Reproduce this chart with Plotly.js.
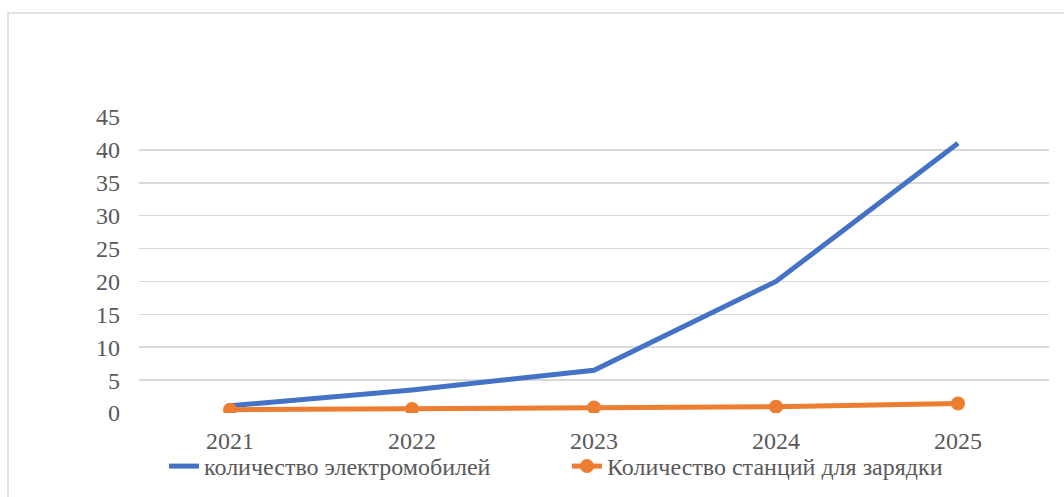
<!DOCTYPE html>
<html>
<head>
<meta charset="utf-8">
<script src="https://cdn.plot.ly/plotly-3.0.1.min.js"></script>
<style>
html,body{margin:0;padding:0;background:#fff;}
#chart{width:1064px;height:497px;}
</style>
</head>
<body>
<div id="chart"></div>
<script>
const years = ['2021', '2022', '2023', '2024', '2025'];
const evCount = [1.1, 3.5, 6.5, 20, 41];
const stationCount = [0.5, 0.6, 0.85, 0.95, 1.45];
const seriesNames = ['количество электромобилей', 'Количество станций для зарядки'];
const yTicks = [0, 5, 10, 15, 20, 25, 30, 35, 40, 45];

const traces = [
  {
    x: years, y: evCount, name: seriesNames[0], type: 'scatter', mode: 'lines',
    line: {color: '#4472C4', width: 5}
  },
  {
    x: years, y: stationCount, name: seriesNames[1], type: 'scatter', mode: 'lines+markers',
    line: {color: '#ED7D31', width: 5},
    marker: {color: '#ED7D31', size: 14}
  }
];

const FONT = 'Liberation Serif';
const W = 910, H = 296;
const layout = {
  width: 1064, height: 497,
  margin: {l: 139, r: 15, t: 117, b: 84, autoexpand: false},
  paper_bgcolor: '#ffffff', plot_bgcolor: '#ffffff',
  font: {family: FONT, size: 24, color: '#595959'},
  xaxis: {
    type: 'category', range: [-0.5, 4.5], showgrid: false, zeroline: false, showline: false,
    ticks: '', ticklabelstandoff: 11, tickfont: {family: FONT, size: 24, color: '#595959'}, fixedrange: true
  },
  yaxis: {
    range: [0, 45], tickvals: yTicks, showgrid: true, gridcolor: '#d9d9d9', gridwidth: 1.5,
    zeroline: false, showline: false, ticks: '', ticklabelstandoff: 18,
    tickfont: {family: FONT, size: 24, color: '#595959'}, fixedrange: true
  },
  showlegend: true,
  legend: {
    orientation: 'h', x: (164 - 139) / W, xanchor: 'left', y: -(444 - 413) / H, yanchor: 'top',
    font: {family: FONT, size: 24, color: '#595959'}, entrywidth: 358, entrywidthmode: 'pixels',
    bgcolor: 'rgba(0,0,0,0)', traceorder: 'normal'
  },
  shapes: [{
    type: 'rect', xref: 'paper', yref: 'paper',
    x0: (8 - 139) / W, x1: (1075 - 139) / W,
    y0: (413 - 510) / H, y1: (413 - 13) / H,
    line: {color: '#d9d9d9', width: 1.5}, fillcolor: 'rgba(0,0,0,0)', layer: 'below'
  }]
};

Plotly.newPlot('chart', traces, layout, {displayModeBar: false, staticPlot: true});
</script>
</body>
</html>
